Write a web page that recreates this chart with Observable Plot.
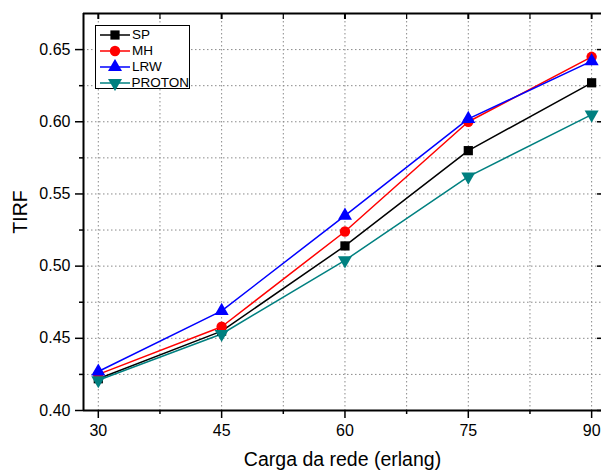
<!DOCTYPE html>
<html>
<head>
<meta charset="utf-8">
<script src="https://cdn.jsdelivr.net/npm/d3@7"></script>
<script src="https://cdn.jsdelivr.net/npm/@observablehq/plot@0.6"></script>
<style>
  body { margin: 0; background: #fff; }
  #wrap { position: relative; width: 601px; height: 471px; overflow: hidden; font-family: "Liberation Sans", Arial, sans-serif; }
  #legend { position: absolute; left: 95px; top: 25px; width: 95px; height: 64px; border: 1px solid #000; background: #fff; box-sizing: border-box; padding-top: 1px; }
  .row { display: flex; align-items: center; height: 16px; }
  .row span { font-size: 13.5px; margin-left: 0px; line-height: 16px; }
</style>
</head>
<body>
<div id="wrap"></div>
<script>
const xValues = [30, 45, 60, 75, 90];
const seriesNames = ["SP", "MH", "LRW", "PROTON"];
const spValues = [0.422, 0.455, 0.514, 0.580, 0.627];
const mhValues = [0.425, 0.458, 0.524, 0.600, 0.645];
const lrwValues = [0.427, 0.469, 0.535, 0.602, 0.642];
const protonValues = [0.421, 0.453, 0.504, 0.562, 0.605];
const seriesColors = ["#000000", "#ff0000", "#0000ff", "#008080"];
const seriesSymbols = ["square", "circle", "triangle", "triangle"];
const seriesRotate = [0, 0, 0, 180];
const xTickValues = [30, 45, 60, 75, 90];
const xMinorTicks = [37.5, 52.5, 67.5, 82.5];
const yTickValues = [0.40, 0.45, 0.50, 0.55, 0.60, 0.65];
const yMinorTicks = [0.425, 0.475, 0.525, 0.575, 0.625];
const xDomain = [28.2, 91.2];
const yDomain = [0.40, 0.675];

const allValues = [spValues, mhValues, lrwValues, protonValues];
const data = [];
seriesNames.forEach((s, i) => xValues.forEach((x, j) => data.push({series: s, x, y: allValues[i][j], rot: seriesRotate[i]})));

const font = '"Liberation Sans", Arial, sans-serif';
const gridStyle = {stroke: "#8a8a8a", strokeOpacity: 1, strokeDasharray: "1.5,2.5", strokeWidth: 1};

const chart = Plot.plot({
  width: 601,
  height: 471,
  marginLeft: 83,
  marginRight: 0,
  marginTop: 13,
  marginBottom: 61,
  style: {fontFamily: font, background: "#fff"},
  x: {domain: xDomain},
  y: {domain: yDomain},
  color: {domain: seriesNames, range: seriesColors},
  symbol: {domain: seriesNames, range: seriesSymbols},
  marks: [
    Plot.gridX([...xTickValues, ...xMinorTicks], gridStyle),
    Plot.gridY([...yTickValues.slice(1), ...yMinorTicks], gridStyle),
    Plot.axisX(xTickValues, {anchor: "bottom", tickSize: 8, strokeWidth: 1.5, tickPadding: 6, fontSize: 16, label: null, tickFormat: d => String(d)}),
    Plot.axisX(xMinorTicks, {anchor: "bottom", tickSize: 4, strokeWidth: 1.5, label: null, tickFormat: () => ""}),
    Plot.axisX(xTickValues, {anchor: "top", tickSize: -5, strokeWidth: 2, label: null, tickFormat: () => ""}),
    Plot.axisX(xMinorTicks, {anchor: "top", tickSize: -5, strokeWidth: 1.2, label: null, tickFormat: () => ""}),
    Plot.axisY(yTickValues, {anchor: "left", tickSize: 8, strokeWidth: 1.5, tickPadding: 5, fontSize: 16, label: null, tickFormat: d3.format(".2f")}),
    Plot.axisY(yMinorTicks, {anchor: "left", tickSize: 4, strokeWidth: 1.5, label: null, tickFormat: () => ""}),
    Plot.axisY(yTickValues, {anchor: "right", tickSize: -5, strokeWidth: 1.5, label: null, tickFormat: () => ""}),
    Plot.ruleX([xDomain[0]], {strokeWidth: 2}),
    Plot.ruleY([yDomain[0], yDomain[1]], {strokeWidth: 2}),
    Plot.line(data, {x: "x", y: "y", z: "series", stroke: "series", strokeWidth: 1.5}),
    Plot.dot(data, {x: "x", y: "y", fill: "series", symbol: "series", r: 5.2, rotate: "rot", stroke: "none"}),
    Plot.text(["TIRF"], {frameAnchor: "left", textAnchor: "middle", lineAnchor: "middle", rotate: -90, dx: -63, fontSize: 19.5}),
    Plot.text(["Carga da rede (erlang)"], {frameAnchor: "bottom", textAnchor: "middle", lineAnchor: "middle", dy: 49, fontSize: 19.5})
  ]
});

const wrap = document.getElementById("wrap");
wrap.appendChild(chart);

const legend = document.createElement("div");
legend.id = "legend";
const sizes = {square: d3.symbolSquare, circle: d3.symbolCircle, triangle: d3.symbolTriangle};
seriesNames.forEach((s, i) => {
  const row = document.createElement("div");
  row.className = "row";
  const svg = d3.create("svg").attr("width", 36).attr("height", 16);
  svg.append("line").attr("x1", 4).attr("x2", 34).attr("y1", 8).attr("y2", 8).attr("stroke", seriesColors[i]).attr("stroke-width", 1.5);
  svg.append("path").attr("d", d3.symbol(sizes[seriesSymbols[i]], Math.PI * 27)()).attr("transform", `translate(19,8) rotate(${seriesRotate[i]})`).attr("fill", seriesColors[i]);
  row.appendChild(svg.node());
  const label = document.createElement("span");
  label.textContent = s;
  row.appendChild(label);
  legend.appendChild(row);
});
wrap.appendChild(legend);
</script>
</body>
</html>
